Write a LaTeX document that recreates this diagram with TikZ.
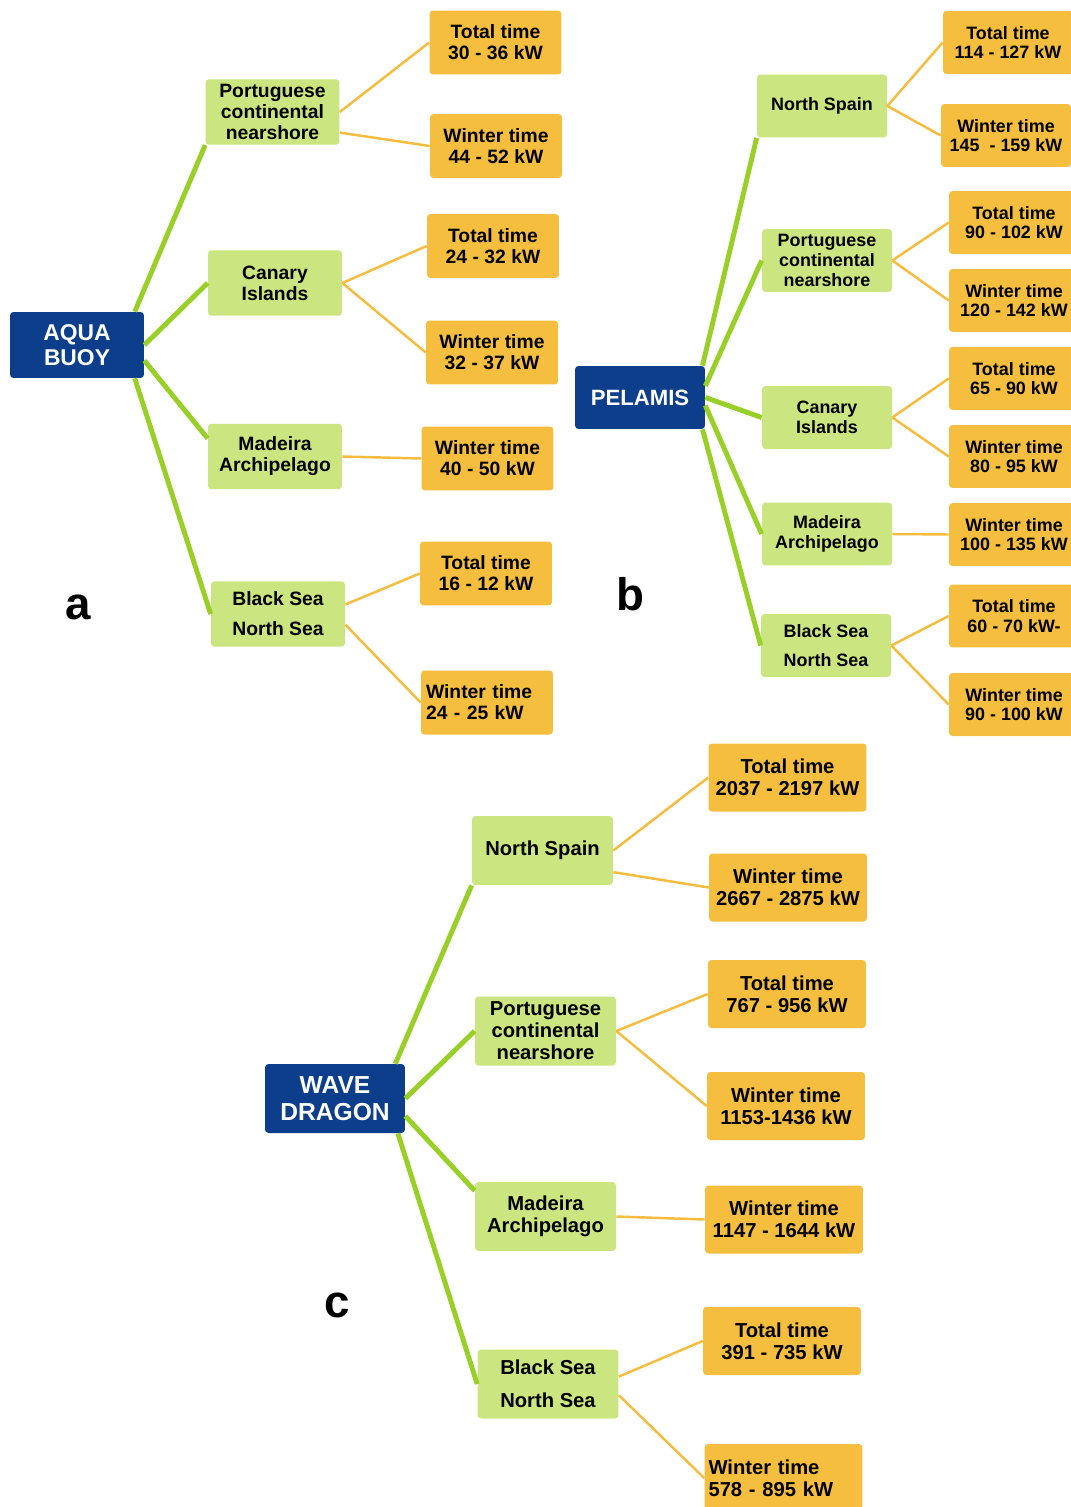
\documentclass[tikz,border=0pt]{standalone}
\usepackage{fontspec}
\setmainfont{Liberation Sans}
\usepackage{tikz}

\definecolor{rootblue}{RGB}{12,62,140}
\definecolor{sitegreen}{RGB}{203,230,128}
\definecolor{valorange}{RGB}{245,190,62}
\definecolor{linegreen}{RGB}{152,208,40}
\definecolor{lineorange}{RGB}{246,188,62}

\begin{document}
\begin{tikzpicture}[
  x=0.02cm, y=-0.02cm,
  root/.style={fill=rootblue, text=white, rounded corners=2pt, align=center, inner sep=2pt, font=\bfseries\fontsize{13}{14.5}\selectfont},
  site/.style={fill=sitegreen, rounded corners=2pt, align=center, inner sep=2pt, minimum width=2.68cm, minimum height=1.31cm, font=\bfseries\fontsize{11}{12}\selectfont},
  val/.style={fill=valorange, rounded corners=2pt, align=center, inner sep=2pt, minimum width=2.64cm, minimum height=1.28cm, font=\bfseries\fontsize{11}{12}\selectfont},
  gline/.style={draw=linegreen, line width=2.8pt},
  oline/.style={draw=lineorange, line width=1.4pt},
  tag/.style={font=\bfseries\fontsize{26}{26}\selectfont}
]
\useasboundingbox (0,0) rectangle (1071,1507);

% a
\node[root, minimum width=2.68cm, minimum height=1.32cm] (aqua) at (77,345) {AQUA\\BUOY};
\node[site] (apcn) at (272.5,112) {Portuguese\\continental\\nearshore};
\node[site] (acan) at (275,283) {Canary\\Islands};
\node[site] (amad) at (275,456.5) {Madeira\\Archipelago};
\node[site] (abns) at (278,614) {Black Sea\\[5pt]North Sea};
\node[val] (apcn1) at (495.5,42.5) {Total time\\30 - 36 kW};
\node[val] (apcn2) at (496,146) {Winter time\\44 - 52 kW};
\node[val] (acan1) at (493,246) {Total time\\24 - 32 kW};
\node[val] (acan2) at (492,352.5) {Winter time\\32 - 37 kW};
\node[val] (amad1) at (487.5,458.5) {Winter time\\40 - 50 kW};
\node[val] (abns1) at (486,573.5) {Total time\\16 - 12 kW};
\node[val, align=left, text width=2.44cm] (abns2) at (487,702.5) {Winter time\\24 - 25 kW};
\node[tag] (taga) at (78,607) {a};

\draw[gline] (aqua.30) -- (apcn.south west);
\draw[gline] (aqua.east) -- (acan.west);
\draw[gline] (aqua.-13) -- (amad.165);
\draw[gline] (aqua.-30) -- (abns.west);
\draw[oline] (apcn.east) -- (apcn1.west);
\draw[oline] (apcn.-17) -- (apcn2.west);
\draw[oline] (acan.east) -- (acan1.west);
\draw[oline] (acan.east) -- (acan2.west);
\draw[oline] (amad.east) -- (amad1.west);
\draw[oline] (abns.8) -- (abns1.west);
\draw[oline] (abns.-9) -- (abns2.west);

% b
\begin{scope}[site/.append style={minimum width=2.6cm, minimum height=1.26cm, font=\bfseries\fontsize{10.2}{11.2}\selectfont},
  val/.append style={minimum width=2.6cm, minimum height=1.26cm, font=\bfseries\fontsize{10.2}{11.2}\selectfont}]
\node[root, minimum width=2.6cm, minimum height=1.26cm, font=\bfseries\fontsize{12.6}{14}\selectfont] (pela) at (640,397.5) {PELAMIS};
\node[site] (bnsp) at (822,106) {North Spain};
\node[site] (bpcn) at (827,260.5) {Portuguese\\continental\\nearshore};
\node[site] (bcan) at (827,417.5) {Canary\\Islands};
\node[site] (bmad) at (827,534) {Madeira\\Archipelago};
\node[site] (bbns) at (826,645.5) {Black Sea\\[5pt]North Sea};
\node[val] (bnsp1) at (1008,42.5) {Total time\\114 - 127 kW};
\node[val] (bnsp2) at (1006,135.5) {Winter time\\145~ - 159 kW};
\node[val] (bpcn1) at (1014,222.5) {Total time\\90 - 102 kW};
\node[val] (bpcn2) at (1014,300.5) {Winter time\\120 - 142 kW};
\node[val] (bcan1) at (1014,378.5) {Total time\\65 - 90 kW};
\node[val] (bcan2) at (1014,456.5) {Winter time\\80 - 95 kW};
\node[val] (bmad1) at (1014,534.5) {Winter time\\100 - 135 kW};
\node[val] (bbns1) at (1014,616) {Total time\\60 - 70 kW-};
\node[val] (bbns2) at (1014,704.5) {Winter time\\90 - 100 kW};
\end{scope}
\node[tag] (tagb) at (630,594) {b};

\draw[gline] (pela.27) -- (bnsp.south west);
\draw[gline] (pela.10) -- (bpcn.west);
\draw[gline] (pela.east) -- (bcan.west);
\draw[gline] (pela.-7) -- (bmad.west);
\draw[gline] (pela.-27) -- (bbns.west);
\draw[oline] (bnsp.east) -- (bnsp1.west);
\draw[oline] (bnsp.east) -- (bnsp2.west);
\draw[oline] (bpcn.east) -- (bpcn1.west);
\draw[oline] (bpcn.east) -- (bpcn2.west);
\draw[oline] (bcan.east) -- (bcan1.west);
\draw[oline] (bcan.east) -- (bcan2.west);
\draw[oline] (bmad.east) -- (bmad1.west);
\draw[oline] (bbns.east) -- (bbns1.west);
\draw[oline] (bbns.east) -- (bbns2.west);

% c
\begin{scope}[site/.append style={minimum width=2.82cm, minimum height=1.38cm, font=\bfseries\fontsize{11.5}{12.5}\selectfont},
  val/.append style={minimum width=3.16cm, minimum height=1.36cm, font=\bfseries\fontsize{11.5}{12.5}\selectfont}]
\node[root, minimum width=2.8cm, minimum height=1.38cm, font=\bfseries\fontsize{14}{15.5}\selectfont] (wave) at (335,1098.5) {WAVE\\DRAGON};
\node[site] (cnsp) at (542.5,850.5) {North Spain};
\node[site] (cpcn) at (545.5,1031) {Portuguese\\continental\\nearshore};
\node[site] (cmad) at (545.5,1216.5) {Madeira\\Archipelago};
\node[site] (cbns) at (548,1384) {Black Sea\\[6pt]North Sea};
\node[val] (cnsp1) at (787.5,777.5) {Total time\\2037 - 2197 kW};
\node[val] (cnsp2) at (788,887.5) {Winter time\\2667 - 2875 kW};
\node[val] (cpcn1) at (787,994) {Total time\\767 - 956 kW};
\node[val] (cpcn2) at (786,1106) {Winter time\\1153-1436 kW};
\node[val] (cmad1) at (784,1219.5) {Winter time\\1147 - 1644 kW};
\node[val] (cbns1) at (782,1341) {Total time\\391 - 735 kW};
\node[val, align=left, text width=3.0cm] (cbns2) at (783.5,1478) {Winter time\\578 - 895 kW};
\end{scope}
\node[tag] (tagc) at (337,1305) {c};

\draw[gline] (wave.30) -- (cnsp.south west);
\draw[gline] (wave.east) -- (cpcn.west);
\draw[gline] (wave.-14) -- (cmad.160);
\draw[gline] (wave.-29) -- (cbns.west);
\draw[oline] (cnsp.east) -- (cnsp1.west);
\draw[oline] (cnsp.-17) -- (cnsp2.west);
\draw[oline] (cpcn.east) -- (cpcn1.west);
\draw[oline] (cpcn.east) -- (cpcn2.west);
\draw[oline] (cmad.east) -- (cmad1.west);
\draw[oline] (cbns.6) -- (cbns1.west);
\draw[oline] (cbns.-9) -- (cbns2.west);
\end{tikzpicture}
\end{document}
